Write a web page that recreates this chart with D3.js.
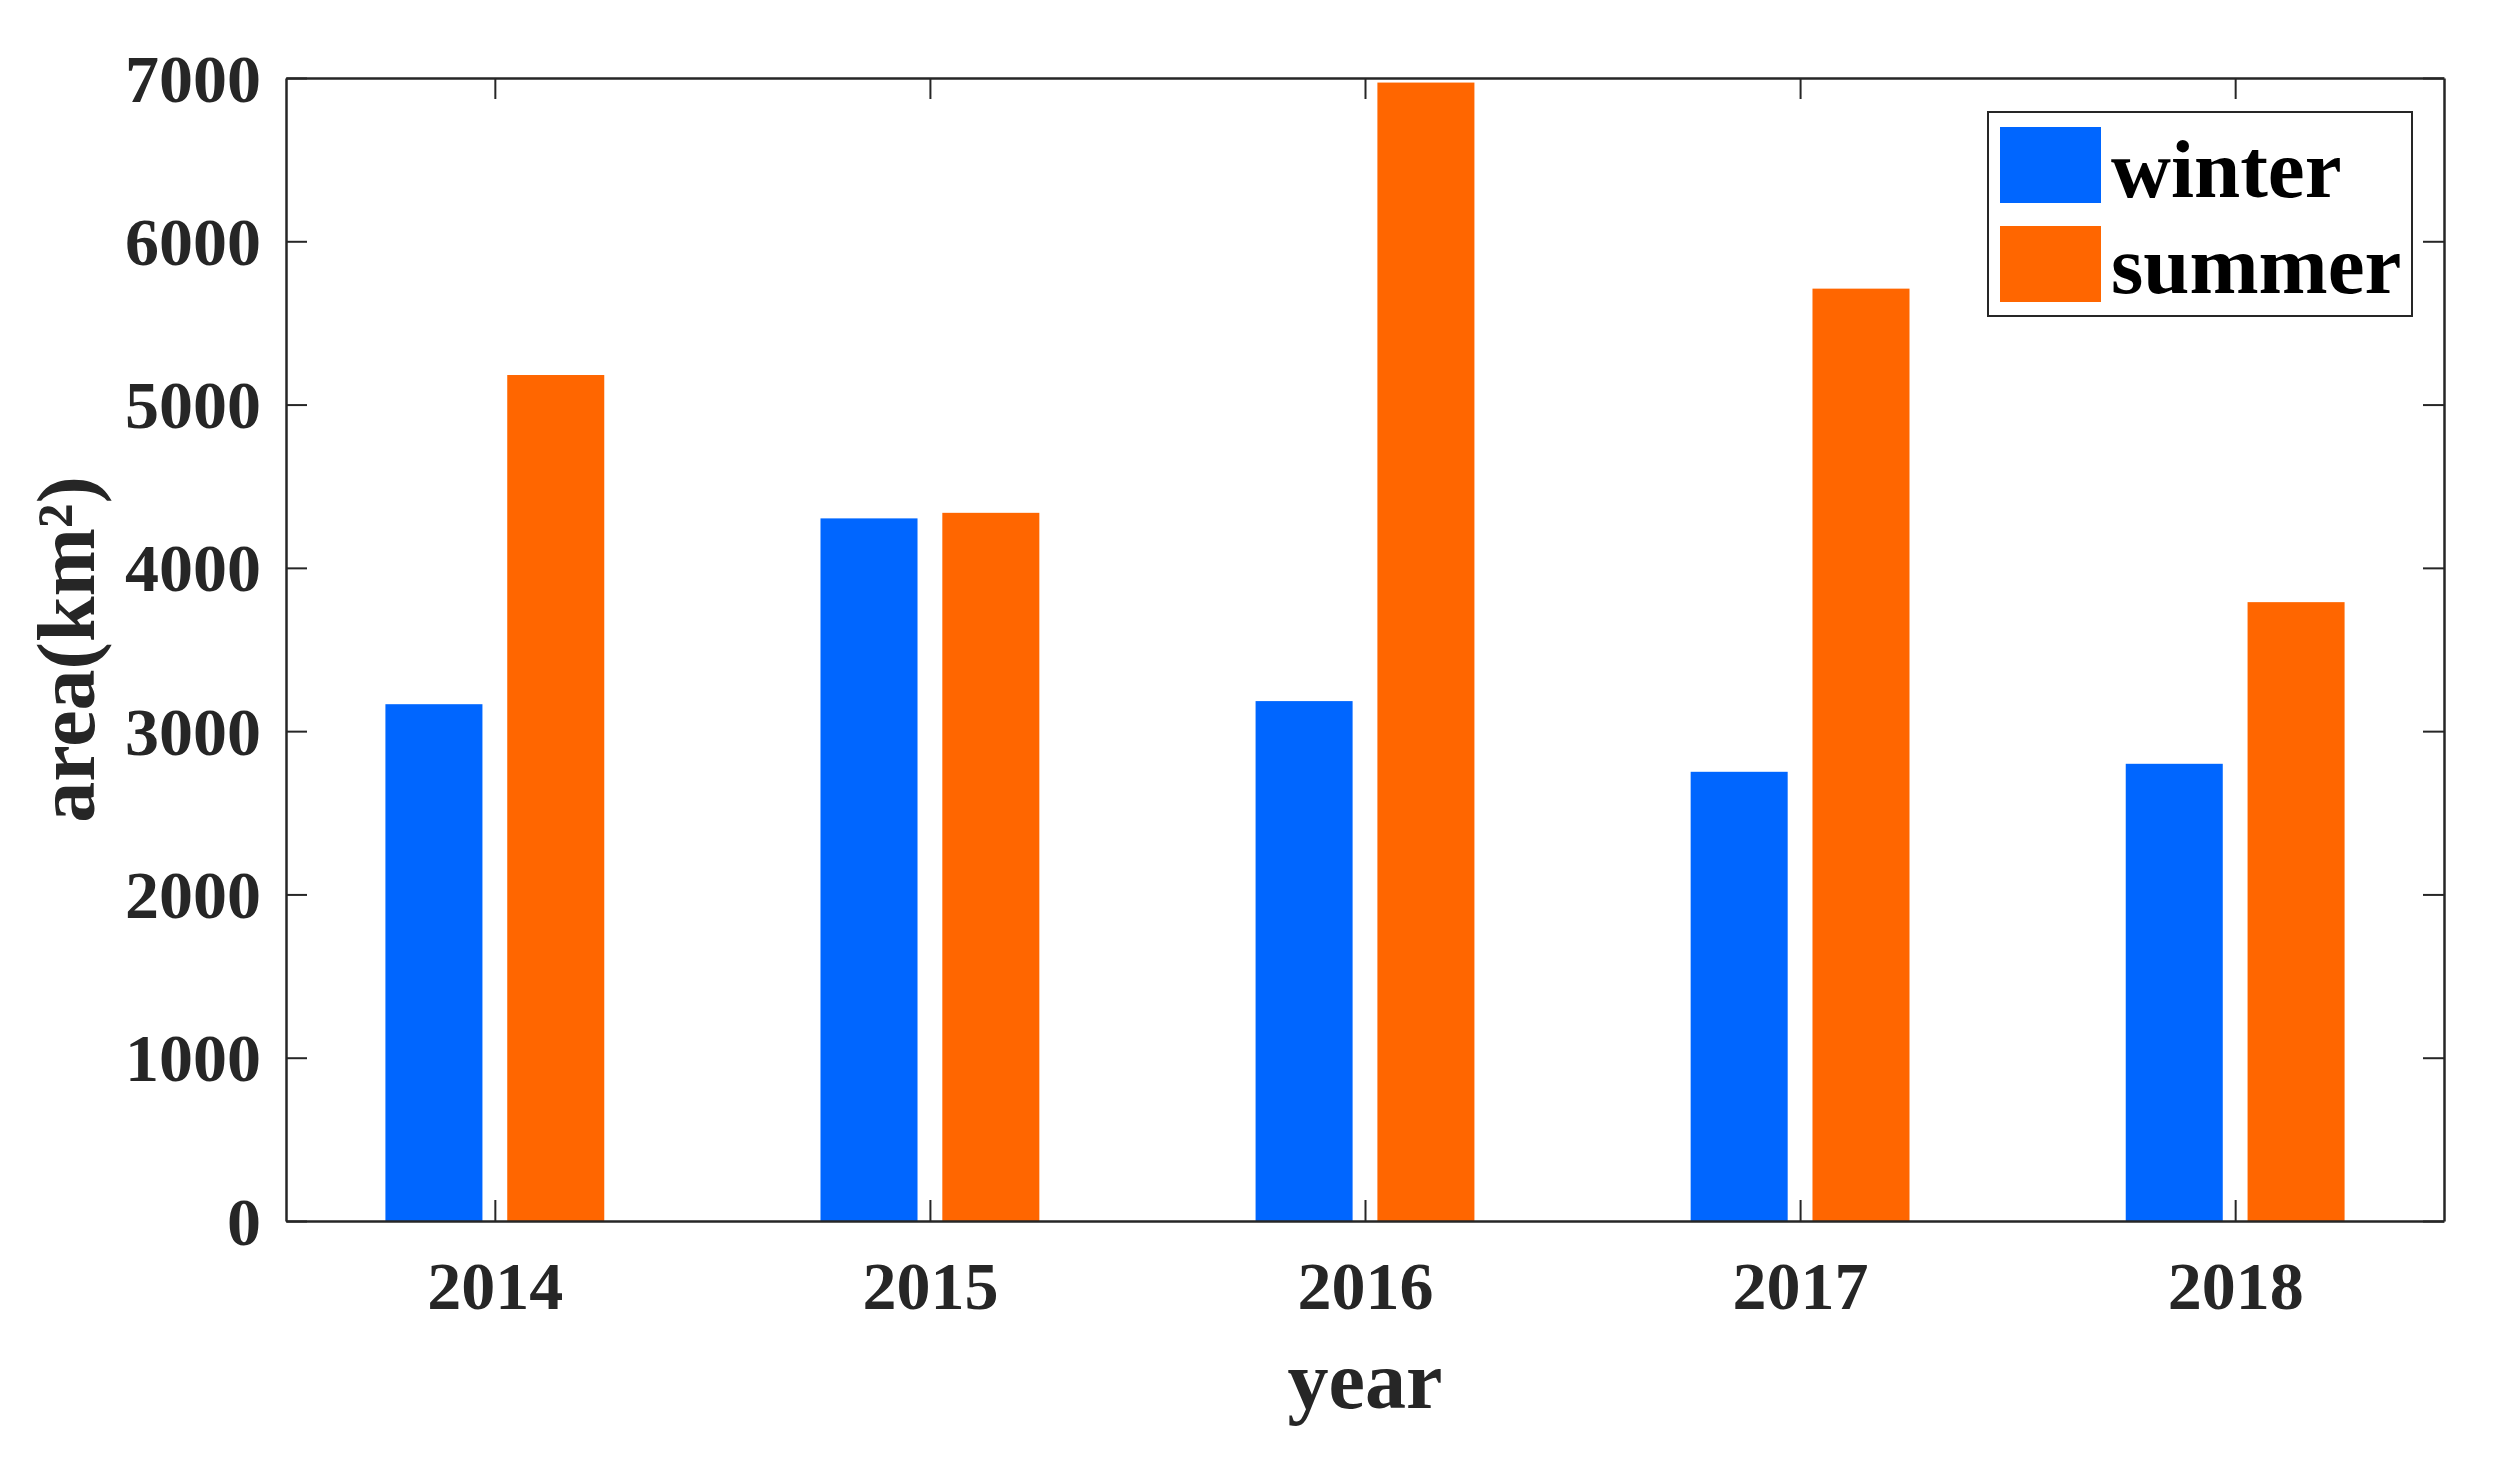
<!DOCTYPE html>
<html>
<head>
<meta charset="utf-8">
<script src="https://cdn.jsdelivr.net/npm/d3@7"></script>
<style>
  html, body { margin: 0; padding: 0; background: #fff; }
  svg { display: block; }
  text { font-family: "Liberation Serif", "Times New Roman", serif; font-weight: bold; }
</style>
</head>
<body>
<script>
// ---- data ----
const years = ["2014", "2015", "2016", "2017", "2018"];
const winter = [3165, 4303, 3184, 2751, 2800];
const summer = [5181, 4337, 6972, 5710, 3790];
const seriesNames = ["winter", "summer"];
const seriesColors = ["#0066FF", "#FF6600"];
const yTicks = [0, 1000, 2000, 3000, 4000, 5000, 6000, 7000];

// ---- layout ----
const W = 2495, H = 1479;
const plot = { left: 286, right: 2444, top: 78, bottom: 1221 };
const axisColor = "#262626";

const svg = d3.select("body").append("svg").attr("width", W).attr("height", H);

const x = d3.scaleLinear().domain([0.52, 5.48]).range([plot.left, plot.right]);
const y = d3.scaleLinear().domain([0, 7000]).range([plot.bottom, plot.top]);

const barW = 0.223;   // in category units
const offset = 0.14;  // group offset

const series = [winter, summer];
series.forEach((vals, si) => {
  svg.append("g").selectAll("rect")
    .data(vals)
    .join("rect")
    .attr("x", (d, i) => x(i + 1 + (si === 0 ? -offset : offset) - barW / 2))
    .attr("width", x(barW) - x(0))
    .attr("y", d => y(d))
    .attr("height", d => y(0) - y(d))
    .attr("fill", seriesColors[si]);
});

// ---- axes ----
const tickLen = 21;
const xAxisBottom = d3.axisBottom(x).tickValues([1, 2, 3, 4, 5])
  .tickFormat((d, i) => years[i]).tickSizeInner(-tickLen).tickSizeOuter(0).tickPadding(40);
const xAxisTop = d3.axisTop(x).tickValues([1, 2, 3, 4, 5])
  .tickFormat("").tickSizeInner(-tickLen).tickSizeOuter(0);
const yAxisLeft = d3.axisLeft(y).tickValues(yTicks)
  .tickFormat(d3.format("d")).tickSizeInner(-tickLen).tickSizeOuter(0).tickPadding(25);
const yAxisRight = d3.axisRight(y).tickValues(yTicks)
  .tickFormat("").tickSizeInner(-tickLen).tickSizeOuter(0);

function styleAxis(g) {
  g.select(".domain").attr("stroke", axisColor).attr("stroke-width", 2.5);
  g.selectAll(".tick line").attr("stroke", axisColor).attr("stroke-width", 2);
  g.selectAll(".tick text").attr("fill", axisColor)
    .style("font-family", '"Liberation Serif", "Times New Roman", serif')
    .style("font-weight", "bold").style("font-size", "68px");
}

const gxb = svg.append("g").attr("transform", `translate(0,${plot.bottom})`).call(xAxisBottom).call(styleAxis);
gxb.selectAll(".tick text").attr("dy", null).attr("y", null)
  .attr("transform", null)
  .attr("y", 88);
const gxt = svg.append("g").attr("transform", `translate(0,${plot.top})`).call(xAxisTop).call(styleAxis);
const gyl = svg.append("g").attr("transform", `translate(${plot.left},0)`).call(yAxisLeft).call(styleAxis);
gyl.selectAll(".tick text").attr("dy", "0.34em");
const gyr = svg.append("g").attr("transform", `translate(${plot.right},0)`).call(yAxisRight).call(styleAxis);

// ---- axis labels ----
svg.append("text")
  .attr("x", (plot.left + plot.right) / 2)
  .attr("y", 1408)
  .attr("text-anchor", "middle")
  .attr("fill", axisColor)
  .style("font-size", "82px")
  .text("year");

svg.append("text")
  .attr("transform", `translate(94,${(plot.top + plot.bottom) / 2}) rotate(-90)`)
  .attr("text-anchor", "middle")
  .attr("fill", axisColor)
  .style("font-size", "82px")
  .text("area(km²)");

// ---- legend ----
const lg = svg.append("g");
lg.append("rect")
  .attr("x", 1988).attr("y", 112).attr("width", 424).attr("height", 204)
  .attr("fill", "#fff").attr("stroke", axisColor).attr("stroke-width", 2);
const legendRows = [
  { sw: 127, base: 197 },
  { sw: 226, base: 293 }
];
seriesNames.forEach((name, i) => {
  lg.append("rect")
    .attr("x", 2000).attr("y", legendRows[i].sw)
    .attr("width", 101).attr("height", 76)
    .attr("fill", seriesColors[i]);
  lg.append("text")
    .attr("x", 2111).attr("y", legendRows[i].base)
    .attr("fill", "#000")
    .style("font-size", "83px")
    .text(name);
});
</script>
</body>
</html>
